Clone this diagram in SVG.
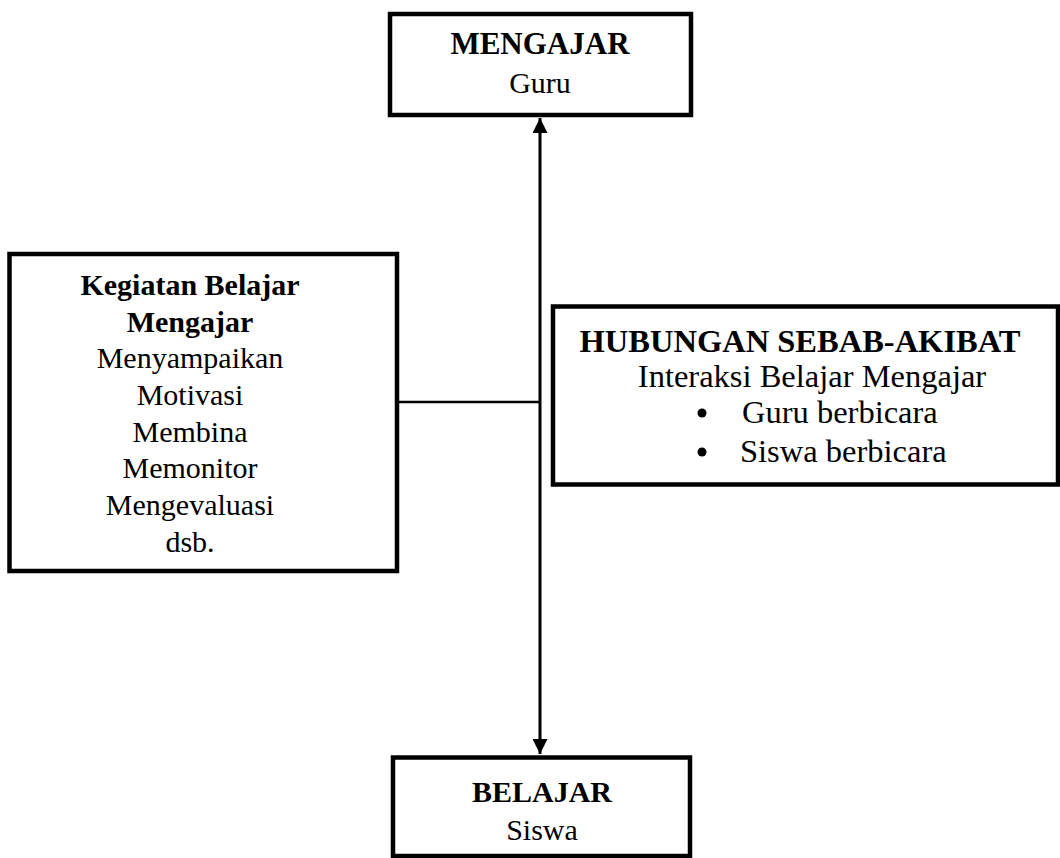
<svg xmlns="http://www.w3.org/2000/svg" width="1060" height="858" viewBox="0 0 1060 858">
<defs>
<style>
.box{fill:#fff;stroke:#000;stroke-width:4.5}
.t{font-family:"Liberation Serif","Times New Roman",serif;font-size:30px;fill:#000;text-anchor:middle}
.r{font-size:32.5px}
.b{font-weight:bold}
.conn{stroke:#000;stroke-width:3;fill:none}
</style>
<marker id="arr" viewBox="0 0 10 10" refX="10" refY="5" markerWidth="5" markerHeight="5" orient="auto-start-reverse" markerUnits="strokeWidth">
<path d="M0,0 L10,5 L0,10 Z" fill="#000"/>
</marker>
</defs>
<rect width="1060" height="858" fill="#fff"/>
<g id="connectors">
<line class="conn" x1="540" y1="118" x2="540" y2="754" marker-start="url(#arr)" marker-end="url(#arr)"/>
<line class="conn" x1="399" y1="402" x2="540" y2="402" style="stroke-width:2.5"/>
</g>
<g id="mengajar">
<rect class="box" x="390" y="14" width="301" height="101"/>
<text class="t b" x="540" y="54" style="font-size:31px">MENGAJAR</text>
<text class="t" x="540" y="93">Guru</text>
</g>
<g id="kegiatan">
<rect class="box" x="9.5" y="254" width="387.5" height="317"/>
<text class="t b" x="190" y="295">Kegiatan Belajar</text>
<text class="t b" x="190" y="332">Mengajar</text>
<text class="t" x="190" y="368">Menyampaikan</text>
<text class="t" x="190" y="405">Motivasi</text>
<text class="t" x="190" y="442">Membina</text>
<text class="t" x="190" y="478">Memonitor</text>
<text class="t" x="190" y="515">Mengevaluasi</text>
<text class="t" x="190" y="552">dsb.</text>
</g>
<g id="hubungan">
<rect class="box" x="553" y="306.5" width="505" height="178"/>
<text class="t r b" x="800" y="352">HUBUNGAN SEBAB-AKIBAT</text>
<text class="t r" x="812" y="387">Interaksi Belajar Mengajar</text>
<circle cx="702" cy="413" r="4.5" fill="#000"/>
<text class="t r" x="742" y="423" style="text-anchor:start">Guru berbicara</text>
<circle cx="702" cy="452" r="4.5" fill="#000"/>
<text class="t r" x="740" y="462" style="text-anchor:start">Siswa berbicara</text>
</g>
<g id="belajar">
<rect class="box" x="393" y="757.5" width="297" height="98.5"/>
<text class="t b" x="542" y="802">BELAJAR</text>
<text class="t" x="542" y="840">Siswa</text>
</g>
</svg>
